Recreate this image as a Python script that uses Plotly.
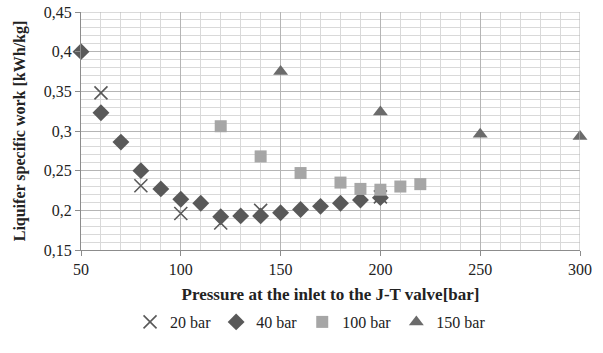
import plotly.graph_objects as go

x20 = [60, 80, 100, 120, 140, 200]
y20 = [0.348, 0.231, 0.196, 0.184, 0.200, 0.217]

x40 = [50, 60, 70, 80, 90, 100, 110, 120, 130, 140, 150, 160, 170, 180, 190, 200]
y40 = [0.400, 0.323, 0.286, 0.250, 0.227, 0.214, 0.209, 0.192, 0.193, 0.193, 0.197, 0.201, 0.205, 0.209, 0.213, 0.216]

x100 = [120, 140, 160, 180, 190, 200, 210, 220]
y100 = [0.306, 0.268, 0.247, 0.235, 0.227, 0.226, 0.230, 0.233]

x150 = [150, 200, 250, 300]
y150 = [0.375, 0.324, 0.296, 0.293]

xticks = [50, 100, 150, 200, 250, 300]
xticklabels = ["50", "100", "150", "200", "250", "300"]
yticks = [0.15, 0.2, 0.25, 0.3, 0.35, 0.4, 0.45]
yticklabels = ["0,15", "0,2", "0,25", "0,3", "0,35", "0,4", "0,45"]

FONT = "Liberation Serif, DejaVu Serif, serif"

fig = go.Figure()
fig.add_trace(go.Scatter(x=x20, y=y20, mode="markers", name="20 bar", cliponaxis=False,
                         marker=dict(symbol="x-thin", size=13, color="#595959",
                                     line=dict(width=1.6, color="#595959"))))
fig.add_trace(go.Scatter(x=x40, y=y40, mode="markers", name="40 bar", cliponaxis=False,
                         marker=dict(symbol="diamond", size=13, color="#595959")))
fig.add_trace(go.Scatter(x=x100, y=y100, mode="markers", name="100 bar", cliponaxis=False,
                         marker=dict(symbol="square", size=12, color="#a6a6a6")))
fig.add_trace(go.Scatter(x=x150, y=y150, mode="markers", name="150 bar", cliponaxis=False,
                         marker=dict(symbol="triangle-up", size=13, color="#6b6b6b")))

fig.update_layout(
    width=603, height=353,
    margin=dict(l=81, r=23, t=12, b=103, autoexpand=False),
    plot_bgcolor="white", paper_bgcolor="white",
    font=dict(family=FONT, size=16, color="#222222"),
    showlegend=True,
    legend=dict(orientation="h", x=0.46, xanchor="center", y=-0.3025, yanchor="middle",
                font=dict(family=FONT, size=16, color="#222222"),
                itemwidth=30, tracegroupgap=0),
)
fig.update_xaxes(
    range=[50, 300], tickvals=xticks, ticktext=xticklabels, automargin=False,
    tickfont=dict(family=FONT, size=16, color="#222222"),
    showgrid=True, gridcolor="#b5b5b5", gridwidth=1,
    minor=dict(dtick=10, showgrid=True, gridcolor="#d9d9d9", gridwidth=1),
    showline=True, linecolor="#8c8c8c", mirror=False,
    ticks="outside", ticklen=5, tickcolor="#8c8c8c",
    zeroline=False,
    title=dict(text="<b>Pressure at the inlet to the J-T valve[bar]</b>",
               font=dict(family=FONT, size=17, color="#222222"), standoff=10),
)
fig.update_yaxes(
    range=[0.15, 0.45], tickvals=yticks, ticktext=yticklabels, automargin=False,
    tickfont=dict(family=FONT, size=16, color="#222222"),
    showgrid=True, gridcolor="#b5b5b5", gridwidth=1,
    minor=dict(dtick=0.01, showgrid=True, gridcolor="#d9d9d9", gridwidth=1),
    showline=True, linecolor="#8c8c8c", mirror=False,
    ticks="outside", ticklen=5, tickcolor="#8c8c8c",
    zeroline=False,
    title=dict(text="<b>Liquifer specific work [kWh/kg]</b>",
               font=dict(family=FONT, size=16, color="#222222"), standoff=14),
)
fig.add_shape(type="line", xref="x", yref="paper", x0=300, x1=300, y0=0, y1=1,
              line=dict(color="#b5b5b5", width=1))
fig.add_shape(type="line", xref="paper", yref="y", x0=0, x1=1, y0=0.45, y1=0.45,
              line=dict(color="#b5b5b5", width=1))

fig.write_html("out.html", config={"displayModeBar": False},
               post_script="document.body.style.margin='0';document.body.style.overflow='hidden';")
